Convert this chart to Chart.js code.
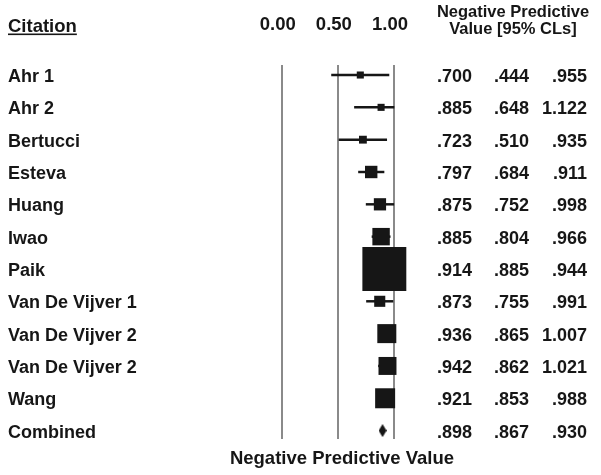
<!DOCTYPE html>
<html>
<head>
<meta charset="utf-8">
<script src="https://cdn.jsdelivr.net/npm/chart.js@4.4.0/dist/chart.umd.min.js"></script>
<style>
  html, body { margin: 0; padding: 0; background: #fff; }
</style>
</head>
<body>
<canvas id="forest" width="601" height="475"></canvas>
<script>
const citations = ['Ahr 1', 'Ahr 2', 'Bertucci', 'Esteva', 'Huang', 'Iwao', 'Paik',
  'Van De Vijver 1', 'Van De Vijver 2', 'Van De Vijver 2', 'Wang', 'Combined'];
const npv   = [0.700, 0.885, 0.723, 0.797, 0.875, 0.885, 0.914, 0.873, 0.936, 0.942, 0.921, 0.898];
const lower = [0.444, 0.648, 0.510, 0.684, 0.752, 0.804, 0.885, 0.755, 0.865, 0.862, 0.853, 0.867];
const upper = [0.955, 1.122, 0.935, 0.911, 0.998, 0.966, 0.944, 0.991, 1.007, 1.021, 0.988, 0.930];
// study weight in % (box area), combined row has none
const weights = [1.3, 1.3, 1.6, 4.0, 3.9, 7.9, 50.2, 3.2, 9.4, 8.4, 10.4];
const xTicks = [0, 0.5, 1];

const FONT = '"Liberation Sans", Arial, Helvetica, sans-serif';
const INK = '#161616';
const studies = citations.slice(0, weights.length);
const combined = citations.length - 1;
const X_MIN = -0.7275, X_MAX = 1.8014;

// ---- diamond marker for the pooled estimate ----
function diamond(w, h) {
  const c = document.createElement('canvas');
  c.width = w; c.height = h;
  const g = c.getContext('2d');
  g.fillStyle = INK;
  g.beginPath();
  g.moveTo(w / 2, 0); g.lineTo(w, h / 2); g.lineTo(w / 2, h); g.lineTo(0, h / 2);
  g.closePath();
  g.fill();
  return c;
}

// ---- headers and the value columns ----
const textPlugin = {
  id: 'forestText',
  afterDraw(chart) {
    const { ctx } = chart;
    const y = chart.scales.y;
    ctx.save();
    ctx.fillStyle = INK;
    ctx.font = 'bold 18.5px ' + FONT;
    ctx.textAlign = 'left';
    ctx.textBaseline = 'alphabetic';
    ctx.fillText('Citation', 8, 32);
    ctx.fillRect(8, 33.5, ctx.measureText('Citation').width, 1.6);

    ctx.font = 'bold 16.5px ' + FONT;
    ctx.textAlign = 'center';
    ctx.fillText('Negative Predictive', 513, 17);
    ctx.fillText('Value [95% CLs]', 513, 34);

    const fmt = v => v.toFixed(3).replace(/^0/, '');
    ctx.font = 'bold 18px ' + FONT;
    ctx.textAlign = 'right';
    ctx.textBaseline = 'middle';
    citations.forEach((c, i) => {
      const py = y.getPixelForValue(i) + 2;
      ctx.fillText(fmt(npv[i]), 472, py);
      ctx.fillText(fmt(lower[i]), 529, py);
      ctx.fillText(fmt(upper[i]), 587, py);
    });
    ctx.restore();
  }
};

new Chart(document.getElementById('forest'), {
  type: 'scatter',
  data: {
    datasets: [
      {
        type: 'scatter',
        data: studies.map((c, i) => ({ x: npv[i], y: i })),
        pointStyle: 'rect',
        pointRadius: weights.map(w => 6.2 * Math.sqrt(w) / Math.SQRT2),
        backgroundColor: INK,
        borderWidth: 0
      },
      {
        type: 'scatter',
        data: [{ x: npv[combined], y: combined }],
        pointStyle: diamond(8, 13),
        pointRadius: 6,
        backgroundColor: INK,
        borderWidth: 0
      },
      {
        // confidence intervals, cut off at 1.00 like the original
        type: 'bar',
        indexAxis: 'y',
        data: studies.map((c, i) => ({ x: [lower[i], Math.min(upper[i], 1)], y: i })),
        barThickness: 1.8,
        backgroundColor: INK,
        borderWidth: 0
      }
    ]
  },
  options: {
    responsive: false,
    animation: false,
    events: [],
    layout: { padding: { left: 8, right: 117, top: 0, bottom: 0 } },
    plugins: { legend: { display: false }, tooltip: { enabled: false } },
    scales: {
      x: {
        type: 'linear', position: 'bottom', min: X_MIN, max: X_MAX, offset: false,
        afterBuildTicks: s => { s.ticks = xTicks.map(v => ({ value: v })); },
        afterFit: s => { s.height = 36; },
        grid: { color: '#8a8a8a', lineWidth: 2, drawTicks: false },
        border: { display: false },
        ticks: { display: false },
        title: {
          display: true, text: 'Negative Predictive Value', color: INK,
          font: { family: FONT, size: 18.5, weight: 'bold' },
          padding: { top: 0, bottom: 5 }
        }
      },
      x2: {
        type: 'linear', position: 'top', min: X_MIN, max: X_MAX, offset: false,
        afterBuildTicks: s => { s.ticks = xTicks.map(v => ({ value: v })); },
        afterFit: s => { s.height = 65; },
        grid: { display: false, drawTicks: false },
        border: { display: false },
        ticks: {
          padding: 29, labelOffset: -4, color: INK, autoSkip: false, maxRotation: 0,
          font: { family: FONT, size: 18.5, weight: 'bold' },
          callback: v => v.toFixed(2)
        }
      },
      y: {
        type: 'linear', reverse: true, min: -0.31, max: 11.26, offset: false,
        afterBuildTicks: s => { s.ticks = citations.map((c, i) => ({ value: i })); },
        afterFit: s => { s.width = 192; },
        grid: { display: false, drawTicks: false },
        border: { display: false },
        ticks: {
          crossAlign: 'far', padding: 0, labelOffset: 2, autoSkip: false, color: INK,
          font: { family: FONT, size: 18, weight: 'bold' },
          callback: v => citations[v]
        }
      }
    }
  },
  plugins: [textPlugin]
});
</script>
</body>
</html>
